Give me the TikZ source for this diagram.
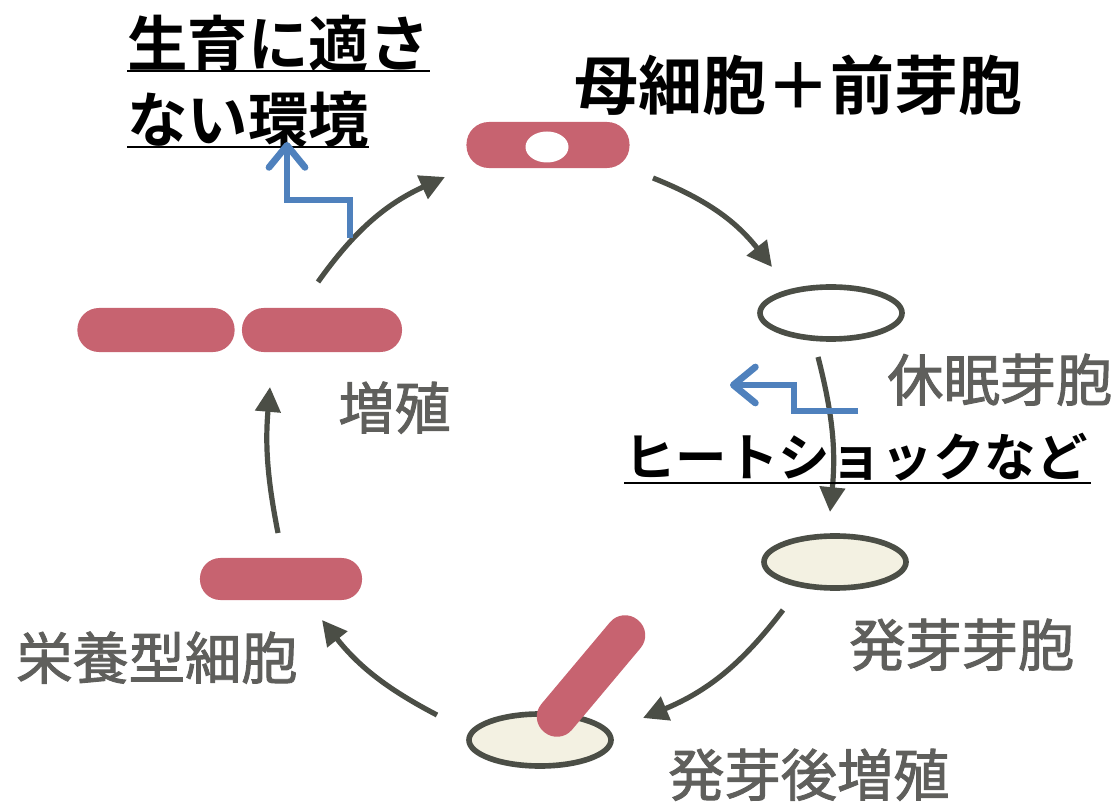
\documentclass[tikz,border=0pt]{standalone}
\usepackage{fontspec}
\setmainfont{Noto Sans CJK JP}[BoldFont={Noto Sans CJK JP Bold}]
\newfontfamily\tagfont{Noto Sans CJK JP}[FakeBold=1.6]
\usepackage{tikz}
\usetikzlibrary{arrows.meta,positioning,shapes.geometric}

\definecolor{cellred}{RGB}{199,99,112}
\definecolor{arrowgray}{RGB}{75,78,70}
\definecolor{labelgray}{RGB}{95,95,92}
\definecolor{sporecream}{RGB}{243,241,226}
\definecolor{cueblue}{RGB}{79,129,189}

\tikzset{
	rod/.style={fill=cellred, rounded corners=0.54cm, minimum width=4cm, minimum height=1.1cm, inner sep=0},
	spore/.style={ellipse, draw=arrowgray, line width=4pt, minimum width=3.55cm, minimum height=1.3cm, inner sep=0},
	stagearrow/.style={draw=arrowgray, line width=3.7pt, -{Triangle[length=0.62cm,width=0.62cm]}},
	cue/.style={draw=cueblue, line width=4.8pt, -{Straight Barb[length=0.55cm,width=0.9cm,round]}},
	tag/.style={inner sep=0, anchor=base west, text=labelgray, font=\tagfont\fontsize{40pt}{40pt}\selectfont},
	note/.style={inner sep=0, anchor=base west, font=\bfseries\fontsize{43pt}{43pt}\selectfont},
	uline/.style={line width=2.1pt}
}

\begin{document}
\begin{tikzpicture}[x=0.025cm, y=-0.025cm]
	\useasboundingbox (0,0) rectangle (1119,806);

	% cells around the cycle
	\node[rod, minimum width=4.075cm, minimum height=1.15cm, rounded corners=0.56cm] (mother) at (548,145) {};
	\node[ellipse, fill=white, minimum width=1.075cm, minimum height=0.775cm, inner sep=0] (forespore) at (547,147) {};
	\node[spore, fill=white] (dormant) at (831,313) {};
	\node[spore, fill=sporecream] (germ) at (835,562) {};
	\node[spore, fill=sporecream] (outgrow) at (540,740) {};
	\node[rod, minimum width=3.65cm, minimum height=1cm, rounded corners=0.49cm, rotate=50] (sprout) at (591,676) {};
	\node[rod, minimum width=4.05cm, minimum height=1.05cm, rounded corners=0.51cm] (veg) at (281,579) {};
	\node[rod, minimum width=3.93cm] (divL) at (156,330) {};
	\node[rod] (divR) at (322,330) {};

	% cycle arrows
	\draw[stagearrow] ([shift={(105,33)}]mother.center) to[bend left=15] ([shift={(-59,-46)}]dormant.center);
	\draw[stagearrow] ([shift={(-13,44)}]dormant.center) to[bend left=10] ([shift={(-5,-50)}]germ.center);
	\draw[stagearrow] ([shift={(-52,48)}]germ.center) to[bend left=15] ([shift={(103,-22)}]outgrow.center);
	\draw[stagearrow] ([shift={(-103,-25)}]outgrow.center) to[bend left=12] ([shift={(41,41)}]veg.center);
	\draw[stagearrow] ([shift={(-3,-46)}]veg.center) to[bend left=8] ([shift={(-52,57)}]divR.center);
	\draw[stagearrow] ([shift={(-4,-48)}]divR.center) to[bend left=15] ([shift={(-103,32)}]mother.center);

	% stage names
	\node[tag] (lblDormant) at (887,401) {休眠芽胞};
	\node[tag] (lblGerm) at (849,666) {発芽芽胞};
	\node[tag] (lblOut) at (668,796) {発芽後増殖};
	\node[tag] (lblVeg) at (16,679) {栄養型細胞};
	\node[tag] (lblDiv) at (338,429) {増殖};

	% triggers
	\node[note] (envA) at (127,67) {生育に適さ};
	\node[note] (envB) at (127,143) {ない環境};
	\draw[uline] ([shift={(0,4)}]envA.base west) -- ([shift={(0,4)}]envA.base east);
	\draw[uline] ([shift={(0,4)}]envB.base west) -- ([shift={(0,4)}]envB.base east);
	\node[note, font=\bfseries\fontsize{45.5pt}{45.5pt}\selectfont] (stage) at (574,110) {母細胞＋前芽胞};
	\node[note, font=\bfseries\fontsize{36.6pt}{36.6pt}\selectfont] (heat) at (624,477) {ヒートショックなど};
	\draw[uline] ([shift={(0,6)}]heat.base west) -- ([shift={(3,6)}]heat.base east);

	\coordinate (cueUp) at (350,238);
	\coordinate (cueLeft) at (730,385);
	\draw[cue] (cueUp) -- ++(0,-38) -| ([shift={(160,-1)}]envB.base west);
	\draw[cue] ([shift={(234,-66)}]heat.base west) -- ++(-64,0) |- (cueLeft);
\end{tikzpicture}
\end{document}
